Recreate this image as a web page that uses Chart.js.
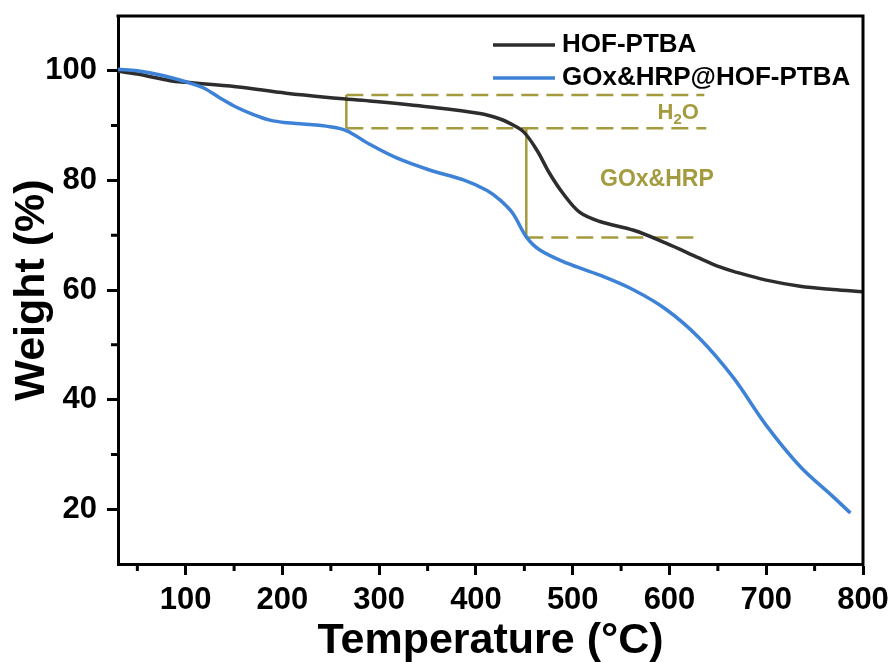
<!DOCTYPE html>
<html>
<head>
<meta charset="utf-8">
<script src="https://cdn.jsdelivr.net/npm/chart.js@4.4.1/dist/chart.umd.min.js"></script>
<style>
  html, body { margin: 0; padding: 0; background: #fff; }
  canvas { display: block; }
</style>
</head>
<body>
<canvas id="tga" width="896" height="662"></canvas>
<script>
// TGA curves: temperature (°C) and remaining weight (%)
const hofTemp   = [30, 50, 84, 100, 152, 204, 256, 290, 352, 404, 425, 435, 449, 463, 476, 490, 507, 528, 563, 597, 631, 652, 666, 700, 735, 769, 800];
const hofWeight = [99.9, 99.4, 98.2, 97.9, 97.1, 95.9, 95.0, 94.5, 93.4, 92.2, 91.2, 90.4, 88.9, 85.5, 81.3, 77.6, 74.2, 72.5, 70.9, 68.5, 65.8, 64.2, 63.4, 61.8, 60.7, 60.1, 59.7];

const enzTemp   = [30, 50, 75, 100, 118, 135, 152, 170, 187, 205, 221, 249, 266, 290, 318, 352, 387, 411, 425, 438, 452, 466, 494, 528, 563, 597, 631, 666, 700, 735, 769, 787];
const enzWeight = [100.3, 100.0, 99.2, 98.0, 96.9, 95.1, 93.4, 92.0, 91.0, 90.5, 90.3, 89.8, 89.1, 86.6, 84.1, 81.9, 80.1, 78.2, 76.4, 74.0, 69.7, 67.3, 64.9, 62.7, 60.0, 56.4, 51.2, 44.0, 35.3, 27.8, 22.3, 19.3];

const seriesNames = ['HOF-PTBA', 'GOx&HRP@HOF-PTBA'];

// axis ticks
const xTickValues = [100, 200, 300, 400, 500, 600, 700, 800];
const yTickValues = [20, 40, 60, 80, 100];
const xMinorTicks = [50, 150, 250, 350, 450, 550, 650, 750];
const yMinorTicks = [30, 50, 70, 90];

// weight-loss steps (water, then enzymes)
const waterLevels  = [95.6, 89.5];
const enzymeLevel  = 69.6;
const waterStartT  = 266;
const waterEndT    = [636, 638];
const enzymeStartT = 452;
const enzymeEndT   = 631;
const stepLabels   = [{ text: 'H2O', t: 609, w: 92.3 }, { text: 'GOx&HRP', t: 587, w: 80.2 }];

const FONT = "'Liberation Sans', Arial, Helvetica, sans-serif";
const OLIVE = '#a49b3e';
const BLACK_LINE = '#2d2d2d';
const BLUE_LINE = '#3d82d6';

const pts = (ts, ws) => ts.map((t, i) => ({ x: t, y: ws[i] }));

const stepLine = (data, dashed) => ({
  data, borderColor: OLIVE, borderWidth: 2.5, pointRadius: 0,
  borderDash: dashed ? [17, 8] : [], tension: 0, order: 5
});

const decor = {
  id: 'decor',
  afterDraw(chart) {
    const { ctx, chartArea: a, scales: { x, y } } = chart;
    ctx.save();
    // closing frame on top and right
    ctx.strokeStyle = '#000';
    ctx.lineWidth = 3;
    ctx.lineCap = 'square';
    ctx.beginPath();
    ctx.moveTo(a.left, a.top);
    ctx.lineTo(a.right, a.top);
    ctx.lineTo(a.right, a.bottom);
    ctx.stroke();
    // minor ticks
    ctx.lineCap = 'butt';
    ctx.beginPath();
    xMinorTicks.forEach(v => {
      const px = x.getPixelForValue(v);
      ctx.moveTo(px, a.bottom); ctx.lineTo(px, a.bottom + 7);
    });
    yMinorTicks.forEach(v => {
      const py = y.getPixelForValue(v);
      ctx.moveTo(a.left, py); ctx.lineTo(a.left - 7, py);
    });
    ctx.stroke();

    // legend
    const ds = chart.data.datasets;
    const lx0 = a.left + 375, lx1 = a.left + 437, tx = a.left + 444;
    [0, 1].forEach((k, i) => {
      const ly = a.top + 29 + i * 33;
      ctx.strokeStyle = ds[k].borderColor;
      ctx.lineWidth = 3.5;
      ctx.beginPath(); ctx.moveTo(lx0, ly); ctx.lineTo(lx1, ly); ctx.stroke();
      ctx.fillStyle = '#000';
      ctx.font = 'bold 26px ' + FONT;
      ctx.textBaseline = 'middle';
      ctx.textAlign = 'left';
      ctx.fillText(ds[k].label, tx, ly);
    });

    // step labels
    ctx.fillStyle = OLIVE;
    ctx.textBaseline = 'middle';
    stepLabels.forEach(s => {
      const px = x.getPixelForValue(s.t), py = y.getPixelForValue(s.w);
      if (s.text === 'H2O') {
        const big = 'bold 22px ' + FONT, small = 'bold 15px ' + FONT;
        ctx.font = big; const wH = ctx.measureText('H').width, wO = ctx.measureText('O').width;
        ctx.font = small; const w2 = ctx.measureText('2').width;
        let cx = px - (wH + w2 + wO) / 2;
        ctx.textAlign = 'left';
        ctx.font = big; ctx.fillText('H', cx, py); cx += wH;
        ctx.font = small; ctx.fillText('2', cx, py + 7); cx += w2;
        ctx.font = big; ctx.fillText('O', cx, py);
      } else {
        ctx.font = 'bold 23px ' + FONT;
        ctx.textAlign = 'center';
        ctx.fillText(s.text, px, py);
      }
    });
    ctx.restore();
  }
};

const axisBase = {
  type: 'linear',
  grid: { display: true, drawOnChartArea: false, drawTicks: true, tickLength: 11, tickWidth: 3, tickColor: '#000' },
  border: { display: true, color: '#000', width: 3 }
};

new Chart(document.getElementById('tga'), {
  type: 'line',
  data: {
    datasets: [
      { label: seriesNames[0], data: pts(hofTemp, hofWeight), borderColor: BLACK_LINE, borderWidth: 3.5,
        pointRadius: 0, tension: 0.35, order: 1 },
      { label: seriesNames[1], data: pts(enzTemp, enzWeight), borderColor: BLUE_LINE, borderWidth: 3.5,
        pointRadius: 0, tension: 0.35, order: 0 },
      stepLine([{ x: waterStartT, y: waterLevels[0] }, { x: waterEndT[0], y: waterLevels[0] }], true),
      stepLine([{ x: waterStartT, y: waterLevels[1] }, { x: waterEndT[1], y: waterLevels[1] }], true),
      stepLine([{ x: waterStartT, y: waterLevels[0] }, { x: waterStartT, y: waterLevels[1] }], false),
      stepLine([{ x: enzymeStartT, y: waterLevels[1] }, { x: enzymeStartT, y: enzymeLevel }], false),
      stepLine([{ x: enzymeStartT, y: enzymeLevel }, { x: enzymeEndT, y: enzymeLevel }], true)
    ]
  },
  options: {
    responsive: false,
    animation: false,
    devicePixelRatio: 1,
    layout: { padding: { left: 0, right: 33, top: 16, bottom: 0 } },
    plugins: { legend: { display: false }, tooltip: { enabled: false } },
    scales: {
      x: {
        ...axisBase,
        position: 'bottom',
        min: 30, max: 800,
        afterBuildTicks: s => { s.ticks = xTickValues.map(v => ({ value: v })); },
        afterFit: s => { s.height = 98; s.paddingLeft = 0; s.paddingRight = 0; },
        ticks: { color: '#000', padding: 7, font: { family: FONT, size: 31, weight: 'bold' }, callback: v => String(v), maxRotation: 0, autoSkip: false },
        title: { display: true, text: 'Temperature (°C)', color: '#000', padding: 0,
                 font: { family: FONT, size: 43, weight: 'bold', lineHeight: 0.95 } }
      },
      y: {
        ...axisBase,
        position: 'left',
        min: 10, max: 110,
        afterBuildTicks: s => { s.ticks = yTickValues.map(v => ({ value: v })); },
        afterFit: s => { s.width = 118; s.paddingTop = 0; s.paddingBottom = 0; },
        ticks: { color: '#000', padding: 10, font: { family: FONT, size: 31, weight: 'bold' }, callback: v => String(v), autoSkip: false },
        title: { display: true, text: 'Weight (%)', color: '#000', padding: { top: 11, bottom: 0 },
                 font: { family: FONT, size: 43, weight: 'bold', lineHeight: 1 } }
      }
    }
  },
  plugins: [decor]
});
</script>
</body>
</html>
